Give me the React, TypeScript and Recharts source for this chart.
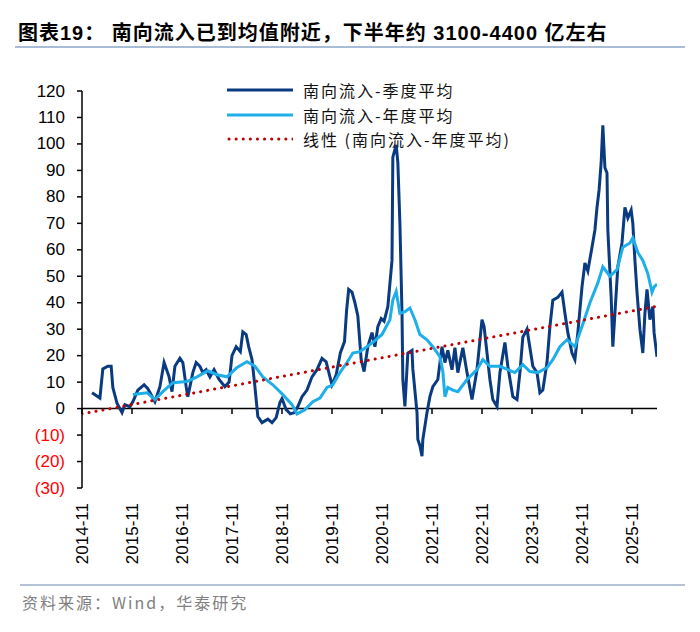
import React from "react";
import { LineChart, Line, XAxis, YAxis, ReferenceLine } from "recharts";

// x positions are months since 2014-11
const tickMonths = [0, 12, 24, 36, 48, 60, 72, 84, 96, 108, 120, 132];
const tickLabels = [
  "2014-11", "2015-11", "2016-11", "2017-11", "2018-11", "2019-11",
  "2020-11", "2021-11", "2022-11", "2023-11", "2024-11", "2025-11",
];
const yTicks = [-30, -20, -10, 0, 10, 20, 30, 40, 50, 60, 70, 80, 90, 100, 110, 120];

const quarterMonths = [
  2.4, 4.3, 5.0, 6.2, 7.0, 7.4, 8.4, 9.6, 10.3, 11.5,
  12.2, 13.4, 14.9, 15.8, 17.5, 18.7, 19.7, 20.9, 21.6, 22.3,
  23.5, 24.2, 25, 25.4, 26.6, 27.4, 28.3, 29, 29.8, 30.7,
  31.7, 32.9, 34.3, 35.3, 36, 37, 38, 38.6, 39.4, 40,
  40.8, 41.5, 42.2, 43.2, 44.6, 45.6, 46.6, 47.5, 48, 49,
  50, 51, 51.8, 52.8, 54, 55.2, 56.4, 57.6, 58.6, 59.5,
  60, 61, 62, 63, 63.5, 64, 64.8, 65.5, 66.2, 67,
  67.7, 68.6, 69.6, 70.3, 71, 71.8, 72.5, 73.4, 74.4, 74.6,
  75.4, 75.8, 76.3, 76.8, 77, 77.5, 78.2, 79.2, 79.4, 80.4,
  80.6, 81.1, 81.6, 81.8, 82.8, 83.5, 84.2, 85.4, 86.4, 87.1,
  87.8, 88.8, 89.5, 90.2, 91.4, 92.4, 93.6, 94.8, 96, 96.5,
  97.2, 97.9, 98.6, 99.6, 100.3, 101.5, 102.2, 103.4, 104.4, 105.1,
  105.8, 106.8, 107.5, 108.2, 109.2, 109.9, 110.6, 111.6, 112.3, 113,
  114.2, 115.2, 115.9, 116.6, 117.6, 118.3, 119, 120, 120.7, 121.4,
  122.4, 123.1, 123.6, 124.1, 124.6, 125, 125.5, 126, 126.2, 127,
  127.4, 127.9, 128.6, 129.6, 130.3, 131, 131.8, 132.2, 132.7, 133.2,
  133.9, 134.6, 135.1, 135.6, 136.3, 137, 137.3, 138,
];
const quarterValues = [
  6, 4, 15, 16, 16, 8, 2, -1.5, 1.5, 0.7,
  2.6, 7, 9, 7.5, 2.6, 8.3, 17.4, 12, 6.4, 16,
  19, 17.4, 8.3, 4.5, 13.6, 17.4, 16, 13.6, 14.7, 12,
  14.7, 11, 8.3, 10, 20, 23.4, 21.5, 29, 28, 23.4,
  18.5, 8.3, -3, -5.3, -4, -5.3, -3.4, 2.3, 3.8, -0.4,
  -2, -1.5, 0.8, 4.5, 7, 12, 14.7, 19, 17.7, 12,
  9, 12.8, 21, 25.3, 37, 45, 44, 40, 35, 18.5,
  14, 23.4, 28.7, 23.4, 31, 34, 33, 38.5, 56, 95,
  99.6, 93, 70, 36, 11, 0.8, 21, 22, 15, -1.5,
  -11.7, -14, -18, -11.7, -1.5, 4.5, 8.3, 11, 23.4, 17.4,
  22, 14.7, 23, 13.6, 23, 13.6, 3.4, 14.7, 33.6, 31,
  21, 11, 3.4, 0.8, 13.6, 25, 16, 4.5, 3.4, 13.6,
  27, 30, 23, 16, 13.6, 6, 7, 17.4, 31, 41,
  42, 44, 36, 28.7, 21, 18.5, 28.7, 46, 55, 52,
  61, 67.5, 76, 82.6, 93, 107, 91, 89, 67.5, 42,
  23.4, 36, 53.6, 62.6, 76, 72, 75, 70, 56, 44,
  30, 21, 36, 45, 33.6, 38.5, 28.7, 19.6,
];

const annualMonths = [
  12.2, 15.6, 17.5, 19.4, 21.8, 25.2, 27.6, 30.2, 32.4, 34.8,
  37.2, 39.6, 41.5, 43.4, 45.8, 48.2, 50.4, 51.6, 53.5, 55.4,
  57.1, 58.8, 60.2, 61.9, 63.6, 65, 66.7, 68.4, 69.8, 72,
  73.9, 74.6, 75.4, 76.3, 77.5, 78.7, 79.9, 81.1, 82.8, 84.2,
  85.9, 86.6, 87.1, 87.8, 89, 90.2, 92.4, 94.8, 96.2, 97.9,
  100.3, 102.2, 103.9, 105.8, 107.5, 109.4, 111.6, 113, 114.7, 116.4,
  118.3, 120, 121.9, 123.8, 125, 126.7, 128.4, 129.8, 131.5, 132.2,
  133.4, 134.6, 135.8, 136.8, 137.3, 138,
];
const annualValues = [
  5.3, 6, 3.4, 6.4, 9.8, 10.2, 12, 14.3, 12.8, 12,
  15.5, 17.7, 16, 12, 9, 5.3, 1.5, -2, -0.4, 2.6,
  4, 8, 9, 13.6, 17.4, 21, 21.5, 23.4, 25, 28,
  33.6, 41, 44.3, 36, 36.6, 38, 33.6, 28, 26, 23.4,
  19.6, 14, 4.5, 8, 7, 6.4, 11, 14.7, 18.5, 16,
  16, 14.7, 13.6, 16.6, 14, 13.6, 15.5, 18.5, 23.4, 26,
  23.4, 31, 40, 47.5, 53.6, 50, 52.5, 61, 62.6, 64.5,
  59, 56, 51, 44, 46, 47,
];

const trendMonths = [0, 137.5];
const trendValues = [-2, 38.5];

const DARK = "#0a3a80";
const LIGHT = "#1eaee8";
const RED = "#c00000";
const FONT = '"Liberation Sans", Arial, "Noto Sans CJK SC", sans-serif';
const CJK = '"Noto Sans CJK SC", "Liberation Sans", sans-serif';

const quarterly = quarterMonths.map((m, i) => ({ m, v: quarterValues[i] }));
const annual = annualMonths.map((m, i) => ({ m, v: annualValues[i] }));
const trend = trendMonths.map((m, i) => ({ m, v: trendValues[i] }));

function YTick({ x, y, payload }: any) {
  const v = payload.value as number;
  return (
    <text
      x={x}
      y={y}
      textAnchor="end"
      dominantBaseline="central"
      fontFamily={FONT}
      fontSize={17}
      fill={v < 0 ? "#ff0000" : "#000"}
    >
      {v < 0 ? `(${Math.abs(v)})` : v}
    </text>
  );
}

function XTick({ x, y, payload }: any) {
  const label = tickLabels[tickMonths.indexOf(payload.value)];
  return (
    <g transform={`translate(${x},${y + 7})`}>
      <text
        transform="rotate(-90)"
        textAnchor="end"
        dominantBaseline="central"
        fontFamily={FONT}
        fontSize={17}
        fill="#000"
      >
        {label}
      </text>
    </g>
  );
}

const legendItems = [
  { label: "南向流入-季度平均", color: DARK, dotted: false },
  { label: "南向流入-年度平均", color: LIGHT, dotted: false },
  { label: "线性 (南向流入-年度平均)", color: RED, dotted: true },
];

export default function App() {
  return (
    <div style={{ position: "absolute", top: 0, left: 0, width: 700, height: 632, background: "#fff" }}>
      <div
        style={{
          position: "absolute",
          top: 19,
          left: 18,
          fontFamily: FONT,
          fontWeight: 700,
          fontSize: 20,
          letterSpacing: 1,
          lineHeight: "28px",
          whiteSpace: "nowrap",
          color: "#000",
        }}
      >
        图表19：&nbsp;南向流入已到均值附近，下半年约 3100-4400 亿左右
      </div>
      <div style={{ position: "absolute", top: 46, left: 15, width: 670, height: 2, background: "#a9bcd5" }} />

      <div style={{ position: "absolute", top: 0, left: 0 }}>
        <LineChart width={700} height={632} margin={{ top: 91, right: 43, left: 0, bottom: 64 }}>
          <XAxis
            type="number"
            dataKey="m"
            domain={[0, 138]}
            ticks={tickMonths}
            interval={0}
            axisLine={false}
            tickLine={false}
            height={80}
            tick={<XTick />}
            allowDataOverflow
          />
          <YAxis
            type="number"
            domain={[-30, 120]}
            ticks={yTicks}
            interval={0}
            width={82}
            tickSize={5}
            tickMargin={12}
            axisLine={{ stroke: "#000", strokeWidth: 1.5 }}
            tickLine={{ stroke: "#000", strokeWidth: 1.5 }}
            tick={<YTick />}
          />
          <ReferenceLine y={0} stroke="#000" strokeWidth={1.5} />
          {tickMonths.map((t) => (
            <ReferenceLine
              key={t}
              segment={[
                { x: t, y: 0 },
                { x: t, y: -2 },
              ]}
              stroke="#000"
              strokeWidth={1.5}
              ifOverflow="visible"
            />
          ))}
          <Line
            data={quarterly}
            dataKey="v"
            type="linear"
            stroke={DARK}
            strokeWidth={3}
            dot={false}
            isAnimationActive={false}
          />
          <Line
            data={annual}
            dataKey="v"
            type="linear"
            stroke={LIGHT}
            strokeWidth={3}
            dot={false}
            isAnimationActive={false}
          />
          <Line
            data={trend}
            dataKey="v"
            type="linear"
            stroke={RED}
            strokeWidth={3}
            strokeDasharray="0.1 7"
            strokeLinecap="round"
            dot={false}
            isAnimationActive={false}
          />
        </LineChart>
      </div>

      <div style={{ position: "absolute", top: 78, left: 227 }}>
        {legendItems.map((it) => (
          <div key={it.label} style={{ display: "flex", alignItems: "center", height: 24.5 }}>
            <svg width={66} height={6} style={{ display: "block" }}>
              <line
                x1={it.dotted ? 2 : 0}
                y1={3}
                x2={66}
                y2={3}
                stroke={it.color}
                strokeWidth={3}
                strokeDasharray={it.dotted ? "0.1 7" : undefined}
                strokeLinecap={it.dotted ? "round" : "butt"}
              />
            </svg>
            <span
              style={{
                marginLeft: 10,
                fontFamily: CJK,
                fontSize: 16,
                letterSpacing: 2,
                color: "#111",
                whiteSpace: "nowrap",
              }}
            >
              {it.label}
            </span>
          </div>
        ))}
      </div>

      <div style={{ position: "absolute", top: 584, left: 20, width: 665, height: 2, background: "#b4c3d6" }} />
      <div
        style={{
          position: "absolute",
          top: 590,
          left: 22,
          fontFamily: CJK,
          fontSize: 16,
          letterSpacing: 2,
          color: "#808080",
          whiteSpace: "nowrap",
        }}
      >
        资料来源：Wind，华泰研究
      </div>
    </div>
  );
}
